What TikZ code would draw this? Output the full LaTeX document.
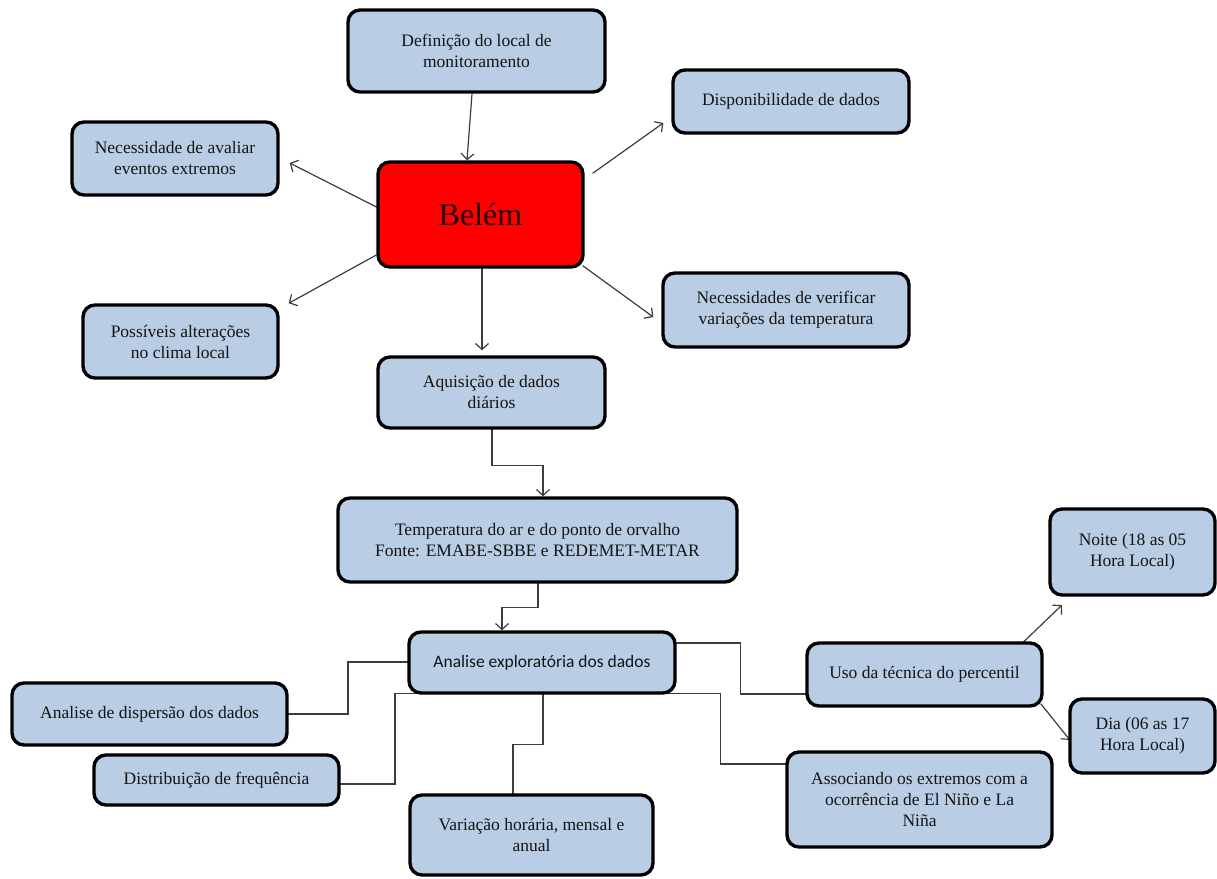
\documentclass[tikz,border=0pt]{standalone}
\usepackage{fontspec}
\setmainfont{Liberation Serif}
\newfontfamily\tnr{Liberation Serif}
\newfontfamily\calib{Carlito}
\usetikzlibrary{arrows.meta,calc,backgrounds}
\definecolor{boxblue}{HTML}{B9CDE5}
\definecolor{linegray}{HTML}{3C3C3C}
\definecolor{txt}{HTML}{141414}
\begin{document}
\begin{tikzpicture}[x=1pt,y=-1pt,
  box/.style={draw=black, line width=3.4pt, fill=boxblue, rounded corners=12pt,
    align=center, inner sep=0pt, text=txt, font=\tnr\fontsize{17.5}{21}\selectfont},
  conn/.style={draw=linegray, line width=1.2pt},
  arr/.style={conn, -{Straight Barb[length=6pt,width=13pt]}}]
\useasboundingbox (0,0) rectangle (1217,878);

\node[box, minimum width=257pt, minimum height=82pt] (def) at (476.5,51) {Definição do local de\\monitoramento};
\node[box, fill=red, minimum width=205pt, minimum height=105pt, font=\tnr\fontsize{32}{36}\selectfont, text=black!85!red] (belem) at (480.5,214.5) {Belém};
\node[box, minimum width=206pt, minimum height=73pt] (neca) at (175,158.5) {Necessidade de avaliar\\eventos extremos};
\node[box, minimum width=195pt, minimum height=73pt] (poss) at (180.5,341.5) {Possíveis alterações\\no clima local};
\node[box, minimum width=236pt, minimum height=63pt] (disp) at (791,101.5) {Disponibilidade de dados};
\node[box, minimum width=246pt, minimum height=74pt] (necv) at (786,310) {Necessidades de verificar\\variações da temperatura};
\node[box, minimum width=227pt, minimum height=71pt] (aqui) at (491.5,392.5) {Aquisição de dados\\diários};
\node[box, minimum width=399pt, minimum height=84pt] (temp) at (537.5,540) {Temperatura do ar e do ponto de orvalho\\Fonte: EMABE-SBBE e REDEMET-METAR};
\node[box, minimum width=266pt, minimum height=61pt, font=\calib\fontsize{17.5}{21}\selectfont] (anal) at (542,662.5) {Analise exploratória dos dados};
\node[box, minimum width=275pt, minimum height=62pt] (dispe) at (149.5,714) {Analise de dispersão dos dados};
\node[box, minimum width=245pt, minimum height=50pt] (dist) at (216.5,780) {Distribuição de frequência};
\node[box, minimum width=243pt, minimum height=80pt] (vari) at (531.5,835) {Variação horária, mensal e\\anual};
\node[box, minimum width=235pt, minimum height=63pt] (uso) at (924.5,674.5) {Uso da técnica do percentil};
\node[box, minimum width=165pt, minimum height=86pt] (noite) at (1132.5,552) {Noite (18 as 05\\Hora Local)};
\node[box, minimum width=145pt, minimum height=74pt] (dia) at (1142.5,736) {Dia (06 as 17\\Hora Local)};
\node[box, minimum width=265pt, minimum height=95pt] (asso) at (919.5,799.5) {Associando os extremos com a\\ocorrência de El Niño e La\\Niña};

\begin{pgfonlayer}{background}
\fill[white] (0,0) rectangle (1217,878);
% arrows around Belém
\draw[arr] ([xshift=-4.5pt]def.south) -- ([xshift=-13.5pt]belem.north);
\draw[arr] ($(belem.west)+(6,-4.5)$) -- ($(neca.east)+(10,4.5)$);
\draw[arr] ($(belem.west)+(0,40.5)$) -- ($(poss.north east)+(9,0)$);
\draw[arr] ($(belem.north east)+(8,13)$) -- ($(disp.west)+(-8,21.5)$);
\draw[arr] ($(belem.south east)+(-2,-3)$) -- ($(necv.west)+(-8,7)$);
\draw[arr] ($(belem.south)+(1.5,-2)$) -- ($(aqui.north)+(-9.5,-5)$);

% chain
\draw[arr] ($(aqui.south)+(0.5,-2)$) -- ++(0,37.4) -| ($(temp.north)+(5.5,0)$);
\draw[arr] ($(temp.south)+(0.5,-2)$) -- ++(0,25.4) -| ($(anal.north)+(-40,0)$);

% analysis branches
\draw[conn] ($(anal.west)+(4,-0.5)$) -- ++(-63.4,0) |- ($(dispe.east)+(-4,0)$);
\draw[conn] ($(anal.south west)+(12,-1.6)$) -- ++(-24.4,0) |- ($(dist.east)+(-4,4)$);
\draw[conn] ($(anal.south)+(1,-2)$) -- ++(0,51.4) -| ($(vari.north)+(-18.5,2)$);
\draw[conn] ($(anal.east)+(-4,-19.5)$) -- ++(67.4,0) |- ($(uso.west)+(4,19.5)$);
\draw[conn] ($(anal.south east)+(-12,-1.6)$) -- ++(55.4,0) |- ($(asso.west)+(4,-35.5)$);

% percentil
\draw[arr] ($(uso.north east)+(-21.6,2)$) -- ($(noite.south west)+(13.6,8.4)$);
\draw[arr] ($(uso.south east)+(-3,-4)$) -- ($(dia.west)+(1.6,4)$);
\end{pgfonlayer}
\end{tikzpicture}
\end{document}
